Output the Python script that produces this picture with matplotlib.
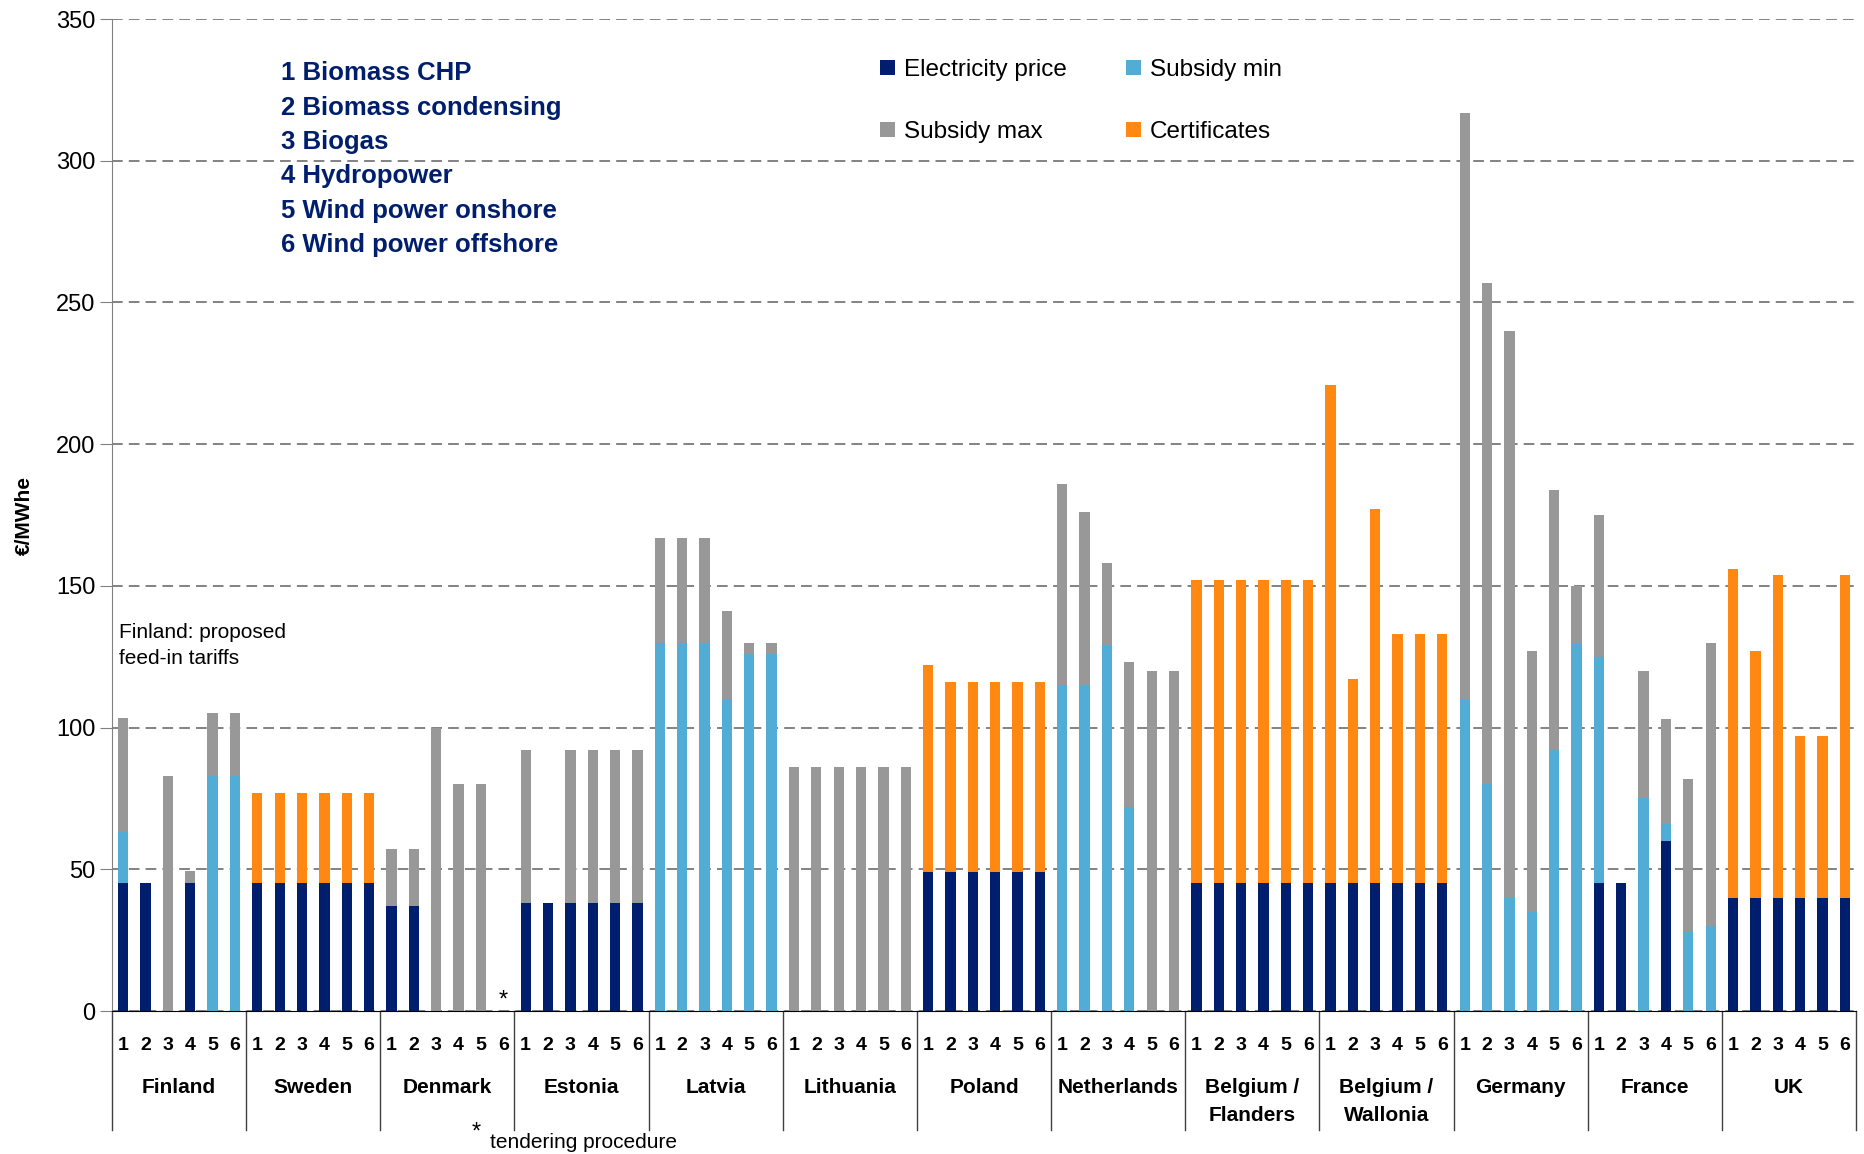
import matplotlib.pyplot as plt
import numpy as np

plt.rcParams["font.family"] = ["Liberation Sans", "DejaVu Sans"]

countries = [
    "Finland", "Sweden", "Denmark", "Estonia", "Latvia", "Lithuania", "Poland",
    "Netherlands", "Belgium /\nFlanders", "Belgium /\nWallonia", "Germany",
    "France", "UK",
]
technologies = [
    "Biomass CHP", "Biomass condensing", "Biogas", "Hydropower",
    "Wind power onshore", "Wind power offshore",
]

# Stacked segment heights in EUR/MWhe, six technologies per country (same order as countries)
electricity_price = [
    45, 45, 0, 45, 0, 0,        # Finland
    45, 45, 45, 45, 45, 45,     # Sweden
    37, 37, 0, 0, 0, 0,         # Denmark
    38, 38, 38, 38, 38, 38,     # Estonia
    0, 0, 0, 0, 0, 0,           # Latvia
    0, 0, 0, 0, 0, 0,           # Lithuania
    49, 49, 49, 49, 49, 49,     # Poland
    0, 0, 0, 0, 0, 0,           # Netherlands
    45, 45, 45, 45, 45, 45,     # Belgium / Flanders
    45, 45, 45, 45, 45, 45,     # Belgium / Wallonia
    0, 0, 0, 0, 0, 0,           # Germany
    45, 45, 0, 60, 0, 0,        # France
    40, 40, 40, 40, 40, 40,     # UK
]
subsidy_min = [
    18, 0, 0, 0, 83, 83,
    0, 0, 0, 0, 0, 0,
    0, 0, 0, 0, 0, 0,
    0, 0, 0, 0, 0, 0,
    130, 130, 130, 110, 126, 126,
    0, 0, 0, 0, 0, 0,
    0, 0, 0, 0, 0, 0,
    115, 115, 129, 72, 0, 0,
    0, 0, 0, 0, 0, 0,
    0, 0, 0, 0, 0, 0,
    110, 80, 40, 35, 92, 130,
    80, 0, 75, 6, 28, 30,
    0, 0, 0, 0, 0, 0,
]
subsidy_max = [
    40.5, 0, 83, 4.5, 22, 22,
    0, 0, 0, 0, 0, 0,
    20, 20, 100, 80, 80, 0,
    54, 0, 54, 54, 54, 54,
    37, 37, 37, 31, 4, 4,
    86, 86, 86, 86, 86, 86,
    0, 0, 0, 0, 0, 0,
    71, 61, 29, 51, 120, 120,
    0, 0, 0, 0, 0, 0,
    0, 0, 0, 0, 0, 0,
    207, 177, 200, 92, 92, 20,
    50, 0, 45, 37, 54, 100,
    0, 0, 0, 0, 0, 0,
]
certificates = [
    0, 0, 0, 0, 0, 0,
    32, 32, 32, 32, 32, 32,
    0, 0, 0, 0, 0, 0,
    0, 0, 0, 0, 0, 0,
    0, 0, 0, 0, 0, 0,
    0, 0, 0, 0, 0, 0,
    73, 67, 67, 67, 67, 67,
    0, 0, 0, 0, 0, 0,
    107, 107, 107, 107, 107, 107,
    176, 72, 132, 88, 88, 88,
    0, 0, 0, 0, 0, 0,
    0, 0, 0, 0, 0, 0,
    116, 87, 114, 57, 57, 114,
]

NAVY = "#001E6E"
LIGHT_BLUE = "#52ADD6"
GREY = "#989898"
ORANGE = "#FF8812"

n_tech = len(technologies)
n_bars = len(countries) * n_tech
x = np.arange(n_bars)
width = 0.46

fig = plt.figure(figsize=(18.64, 11.54), dpi=100)
ax = fig.add_axes([0.0601, 0.1239, 0.9356, 0.8596])

elec = np.array(electricity_price, dtype=float)
smin = np.array(subsidy_min, dtype=float)
smax = np.array(subsidy_max, dtype=float)
cert = np.array(certificates, dtype=float)

b_elec = ax.bar(x, elec, width, color=NAVY, zorder=2)
b_min = ax.bar(x, smin, width, bottom=elec, color=LIGHT_BLUE, zorder=2)
b_max = ax.bar(x, smax, width, bottom=elec + smin, color=GREY, zorder=2)
b_cert = ax.bar(x, cert, width, bottom=elec + smin + smax, color=ORANGE, zorder=2)

ax.set_xlim(-0.5, n_bars - 0.5)
ax.set_ylim(0, 350)
ax.set_yticks(np.arange(0, 351, 50))
ax.tick_params(axis="y", direction="out", length=9, color="#808080",
               labelsize=17, pad=3)
ax.yaxis.grid(True, linestyle=(0, (7, 4)), color="#606060", linewidth=1.1, zorder=0)
ax.set_axisbelow(True)

ax.set_xticks(x)
ax.set_xticklabels([str(i + 1) for i in range(n_tech)] * len(countries),
                   fontsize=14, fontweight="bold")
ax.tick_params(axis="x", length=0, pad=19)

for side in ("top", "right"):
    ax.spines[side].set_visible(False)
ax.spines["left"].set_color("#808080")
ax.spines["bottom"].set_color("black")

ax.set_ylabel("€/MWhe", fontsize=15, fontweight="bold")
ax.yaxis.set_label_coords(-0.045, 0.5)

# country group dividers and names under the axis
xt = ax.get_xaxis_transform()
for k in range(len(countries) + 1):
    xpos = k * n_tech - 0.5
    ax.plot([xpos, xpos], [0, -0.12], transform=xt, color="#404040",
            linewidth=1, clip_on=False)
for k, name in enumerate(countries):
    ax.text(k * n_tech + (n_tech - 1) / 2, -0.068, name, transform=xt,
            ha="center", va="top", fontsize=15, fontweight="bold", linespacing=1.55)

# Denmark offshore wind has no support level
ax.text(17, 1.5, "*", ha="center", va="baseline", fontsize=17)
fig.text(476 / 1864, 1 - 1133 / 1154, "*", ha="center", va="center", fontsize=17)
fig.text(490 / 1864, 1 - 1143 / 1154, "tendering procedure", ha="left",
         va="center", fontsize=15)

fig.text(119 / 1864, 1 - 632 / 1154, "Finland: proposed", ha="left",
         va="center", fontsize=15)
fig.text(119 / 1864, 1 - 659 / 1154, "feed-in tariffs", ha="left",
         va="center", fontsize=15)

# technology key
for i, tech in enumerate(technologies):
    fig.text(281 / 1864, 1 - (73.5 + i * 34.3) / 1154, f"{i + 1} {tech}",
             ha="left", va="center", fontsize=18.5, fontweight="bold", color=NAVY)

ax.legend(
    [b_elec, b_max, b_min, b_cert],
    ["Electricity price", "Subsidy max", "Subsidy min", "Certificates"],
    ncol=2, loc="upper left",
    bbox_to_anchor=(880 / 1864, 1 - 59 / 1154), bbox_transform=fig.transFigure,
    frameon=False, fontsize=17.5, handlelength=0.62, handleheight=0.62,
    handletextpad=0.38, columnspacing=2.4, labelspacing=1.65,
    borderpad=0, borderaxespad=0,
)

fig.savefig("out.png", dpi=100)
